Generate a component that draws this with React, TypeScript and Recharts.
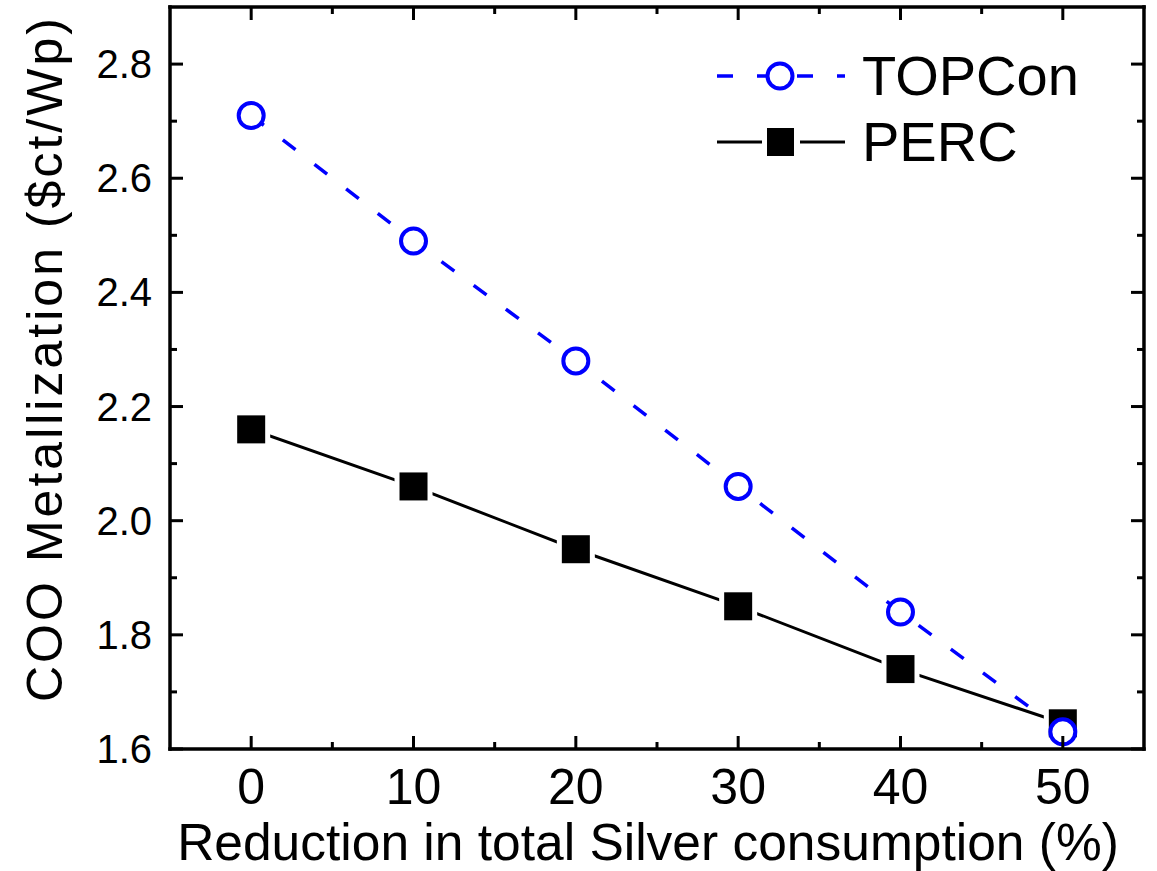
import { LineChart, Line, XAxis, YAxis, Legend, Label } from 'recharts';

const REDUCTION = [0, 10, 20, 30, 40, 50];
const TOPCON = [2.71, 2.49, 2.28, 2.06, 1.84, 1.63];
const PERC = [2.16, 2.06, 1.95, 1.85, 1.74, 1.645];

const X_MAJOR = [0, 10, 20, 30, 40, 50];
const X_MINOR = [5, 15, 25, 35, 45];
const Y_MAJOR = [1.6, 1.8, 2.0, 2.2, 2.4, 2.6, 2.8];
const Y_MINOR = [1.7, 1.9, 2.1, 2.3, 2.5, 2.7];

const LEGEND_ORDER = ['TOPCon', 'PERC'];

const data = REDUCTION.map((r, i) => ({ r, topcon: TOPCON[i], perc: PERC[i] }));

const FONT = '"Liberation Sans", Arial, Helvetica, sans-serif';
const BLUE = '#0000ff';
const X_DOMAIN: [number, number] = [-5, 55];
const Y_DOMAIN: [number, number] = [1.6, 2.9];
const AX = { stroke: '#000', strokeWidth: 3.5, strokeLinecap: 'square' as const };
const TINY = 0.01;
const MAJ = 13;
const MIN = 7;

// inward tick marks, drawn from the tick anchor that recharts hands over
function tickMark(side: 'bottom' | 'top' | 'left' | 'right', len: number) {
  return (p: any) => {
    const { x, y } = p;
    if (side === 'bottom') return <line x1={x} x2={x} y1={y} y2={y - len} stroke="#000" strokeWidth={3} />;
    if (side === 'top') return <line x1={x} x2={x} y1={y} y2={y + len} stroke="#000" strokeWidth={3} />;
    if (side === 'left') return <line x1={x} x2={x + len} y1={y} y2={y} stroke="#000" strokeWidth={3} />;
    return <line x1={x} x2={x - len} y1={y} y2={y} stroke="#000" strokeWidth={3} />;
  };
}

function XTick(p: any) {
  const { x, y, payload } = p;
  return (
    <g>
      <line x1={x} x2={x} y1={y - 20} y2={y - 20 - MAJ} stroke="#000" strokeWidth={3} />
      <text x={x} y={y + 35} textAnchor="middle" fontSize={50} fontFamily={FONT} fill="#000">
        {payload.value}
      </text>
    </g>
  );
}

function YTick(p: any) {
  const { x, y, payload } = p;
  return (
    <g>
      <line x1={x + 18} x2={x + 18 + MAJ} y1={y} y2={y} stroke="#000" strokeWidth={3} />
      <text x={x} y={y + 14} textAnchor="end" fontSize={40} fontFamily={FONT} fill="#000">
        {Number(payload.value).toFixed(1)}
      </text>
    </g>
  );
}

function CircleDot(props: any) {
  const { cx, cy, index } = props;
  return <circle key={`c${index}`} cx={cx} cy={cy} r={12.5} fill="#fff" stroke={BLUE} strokeWidth={4} />;
}

// square with a thin white gap so the line stops short of the symbol
function SquareDot(props: any) {
  const { cx, cy, index } = props;
  return (
    <g key={`s${index}`}>
      <rect x={cx - 19} y={cy - 19} width={38} height={38} fill="#fff" />
      <rect x={cx - 14} y={cy - 14} width={28} height={28} fill="#000" />
    </g>
  );
}

function LegendBox({ payload }: any) {
  const items = LEGEND_ORDER.map((n) => (payload || []).find((p: any) => p.value === n)).filter(Boolean);
  return (
    <svg width={430} height={150} style={{ overflow: 'visible' }}>
      {items.map((p: any, i: number) => {
        const cy = 36 + i * 66;
        const isTop = p.value === 'TOPCon';
        return (
          <g key={p.value}>
            {isTop ? (
              <>
                <line x1={7} x2={135} y1={cy} y2={cy} stroke={BLUE} strokeWidth={3.5} strokeDasharray="16 24" />
                <circle cx={70} cy={cy} r={12.5} fill="#fff" stroke={BLUE} strokeWidth={4} />
              </>
            ) : (
              <>
                <line x1={7} x2={52} y1={cy} y2={cy} stroke="#000" strokeWidth={3} />
                <line x1={90} x2={135} y1={cy} y2={cy} stroke="#000" strokeWidth={3} />
                <rect x={57} y={cy - 14} width={27} height={28} fill="#000" />
              </>
            )}
            <text x={152} y={cy + 19} fontSize={56} fontFamily={FONT} fill="#000">
              {p.value}
            </text>
          </g>
        );
      })}
    </svg>
  );
}

export default function App() {
  return (
    <div style={{ position: 'fixed', left: 0, top: 0, background: '#fff' }}>
      <LineChart width={1157} height={871} data={data} margin={{ top: 7, right: 13, bottom: 122, left: 170 }}>
        <XAxis xAxisId="main" dataKey="r" type="number" domain={X_DOMAIN} ticks={X_MAJOR} height={TINY}
          tickLine={false} tickSize={0} tickMargin={20} axisLine={AX} allowDataOverflow tick={XTick}>
          <Label
            content={({ viewBox }: any) => (
              <text x={viewBox.x + viewBox.width / 2 - 9} y={viewBox.y + 111} textAnchor="middle"
                fontSize={51.5} fontFamily={FONT} fill="#000">
                Reduction in total Silver consumption (%)
              </text>
            )}
          />
        </XAxis>
        <XAxis xAxisId="bMin" dataKey="r" type="number" domain={X_DOMAIN} ticks={X_MINOR} height={TINY}
          tickLine={false} tickSize={0} tickMargin={0} axisLine={false} allowDataOverflow tick={tickMark('bottom', MIN)} />
        <XAxis xAxisId="tMaj" orientation="top" dataKey="r" type="number" domain={X_DOMAIN} ticks={X_MAJOR}
          height={TINY} tickLine={false} tickSize={0} tickMargin={0} axisLine={AX} allowDataOverflow
          tick={tickMark('top', MAJ)} />
        <XAxis xAxisId="tMin" orientation="top" dataKey="r" type="number" domain={X_DOMAIN} ticks={X_MINOR}
          height={TINY} tickLine={false} tickSize={0} tickMargin={0} axisLine={false} allowDataOverflow
          tick={tickMark('top', MIN)} />

        <YAxis yAxisId="main" type="number" domain={Y_DOMAIN} ticks={Y_MAJOR} width={TINY}
          tickLine={false} tickSize={0} tickMargin={18} axisLine={AX} allowDataOverflow tick={YTick}>
          <Label
            content={({ viewBox }: any) => {
              const cx = viewBox.x - 108;
              const cy = viewBox.y + viewBox.height / 2 - 18;
              return (
                <text x={cx} y={cy} transform={`rotate(-90 ${cx} ${cy})`} textAnchor="middle"
                  fontSize={50} fontFamily={FONT} fill="#000" textLength={684} lengthAdjust="spacing">
                  COO Metallization ($ct/Wp)
                </text>
              );
            }}
          />
        </YAxis>
        <YAxis yAxisId="lMin" type="number" domain={Y_DOMAIN} ticks={Y_MINOR} width={TINY}
          tickLine={false} tickSize={0} tickMargin={0} axisLine={false} allowDataOverflow tick={tickMark('left', MIN)} />
        <YAxis yAxisId="rMaj" orientation="right" type="number" domain={Y_DOMAIN} ticks={Y_MAJOR} width={TINY}
          tickLine={false} tickSize={0} tickMargin={0} axisLine={AX} allowDataOverflow tick={tickMark('right', MAJ)} />
        <YAxis yAxisId="rMin" orientation="right" type="number" domain={Y_DOMAIN} ticks={Y_MINOR} width={TINY}
          tickLine={false} tickSize={0} tickMargin={0} axisLine={false} allowDataOverflow tick={tickMark('right', MIN)} />

        <Legend layout="vertical" align="center" verticalAlign="middle" content={<LegendBox />}
          wrapperStyle={{ position: 'absolute', left: 710, top: 40, width: 430, height: 150 }} />

        <Line xAxisId="main" yAxisId="main" dataKey="perc" name="PERC" stroke="#000" strokeWidth={3}
          dot={SquareDot} activeDot={false} isAnimationActive={false} />
        <Line xAxisId="main" yAxisId="main" dataKey="topcon" name="TOPCon" stroke={BLUE} strokeWidth={3.5}
          strokeDasharray="16 24" dot={CircleDot} activeDot={false} isAnimationActive={false} />
      </LineChart>
    </div>
  );
}
